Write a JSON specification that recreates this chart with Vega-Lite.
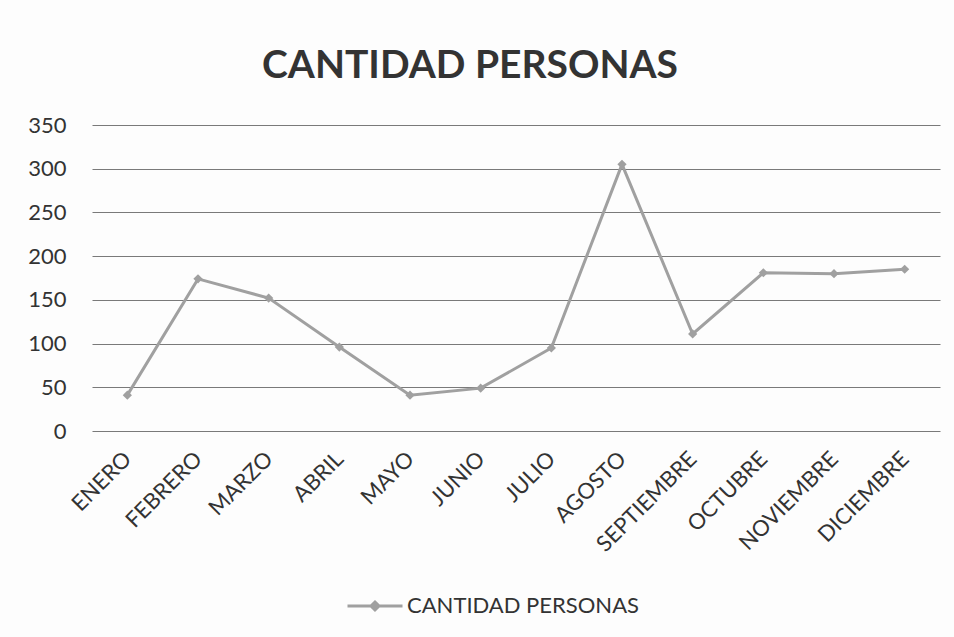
{
  "$schema": "https://vega.github.io/schema/vega-lite/v6.json",
  "width": 848,
  "height": 306,
  "autosize": {"type": "none"},
  "padding": {"left": 92, "top": 125, "right": 14, "bottom": 206},
  "background": "#fdfdfd",
  "title": {
    "text": "CANTIDAD PERSONAS",
    "font": "Lato",
    "fontSize": 39,
    "fontWeight": "bold",
    "color": "#333333",
    "anchor": "middle",
    "dx": -46,
    "offset": 28
  },
  "data": {
    "values": [
      {"mes": "ENERO", "valor": 41, "serie": "CANTIDAD PERSONAS"},
      {"mes": "FEBRERO", "valor": 174, "serie": "CANTIDAD PERSONAS"},
      {"mes": "MARZO", "valor": 152, "serie": "CANTIDAD PERSONAS"},
      {"mes": "ABRIL", "valor": 96, "serie": "CANTIDAD PERSONAS"},
      {"mes": "MAYO", "valor": 41, "serie": "CANTIDAD PERSONAS"},
      {"mes": "JUNIO", "valor": 49, "serie": "CANTIDAD PERSONAS"},
      {"mes": "JULIO", "valor": 95, "serie": "CANTIDAD PERSONAS"},
      {"mes": "AGOSTO", "valor": 305, "serie": "CANTIDAD PERSONAS"},
      {"mes": "SEPTIEMBRE", "valor": 111, "serie": "CANTIDAD PERSONAS"},
      {"mes": "OCTUBRE", "valor": 181, "serie": "CANTIDAD PERSONAS"},
      {"mes": "NOVIEMBRE", "valor": 180, "serie": "CANTIDAD PERSONAS"},
      {"mes": "DICIEMBRE", "valor": 185, "serie": "CANTIDAD PERSONAS"}
    ]
  },
  "mark": {
    "type": "line",
    "strokeWidth": 3,
    "point": {"shape": "diamond", "size": 85, "filled": true, "opacity": 1}
  },
  "encoding": {
    "x": {
      "field": "mes",
      "type": "ordinal",
      "sort": null,
      "scale": {"type": "point", "padding": 0.5},
      "axis": {
        "title": null,
        "labelAngle": -45,
        "labelAlign": "right",
        "labelBaseline": "middle",
        "labelFont": "Lato",
        "labelFontSize": 22,
        "labelColor": "#333333",
        "labelPadding": 24,
        "labelLimit": 0,
        "labelOverlap": false,
        "ticks": false,
        "domain": false,
        "grid": false
      }
    },
    "y": {
      "field": "valor",
      "type": "quantitative",
      "scale": {"domain": [0, 350], "nice": false},
      "axis": {
        "title": null,
        "values": [0, 50, 100, 150, 200, 250, 300, 350],
        "labelFont": "Lato",
        "labelFontSize": 22,
        "labelColor": "#333333",
        "labelPadding": 26,
        "ticks": false,
        "domain": false,
        "grid": true,
        "gridColor": "#7a7a7a",
        "gridWidth": 1.2
      }
    },
    "color": {
      "field": "serie",
      "type": "nominal",
      "scale": {"range": ["#a0a0a0"]},
      "legend": {
        "title": null,
        "orient": "none",
        "legendX": 254,
        "legendY": 452,
        "symbolType": "M-1,0L1,0M0,-0.145L0.145,0L0,0.145L-0.145,0Z",
        "symbolSize": 3025,
        "symbolStrokeWidth": 3,
        "symbolFillColor": "#a0a0a0",
        "symbolStrokeColor": "#a0a0a0",
        "labelFont": "Lato",
        "labelFontSize": 22,
        "labelColor": "#333333",
        "labelLimit": 0,
        "labelOffset": 3
      }
    }
  },
  "config": {"view": {"stroke": null}}
}
